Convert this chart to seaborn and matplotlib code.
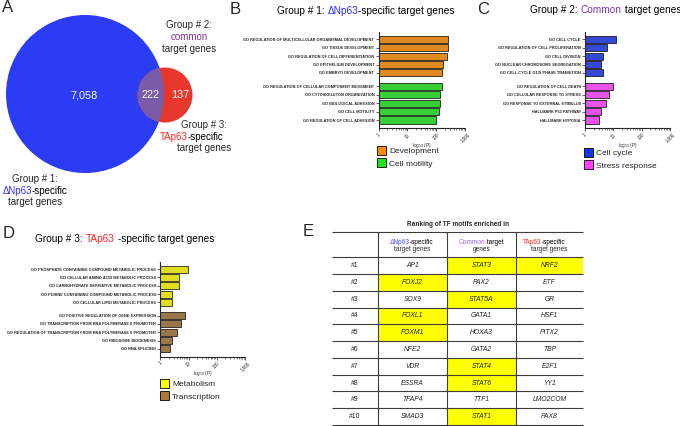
import pandas as pd
import matplotlib.pyplot as plt
import seaborn as sns
from matplotlib.patches import Circle, Patch

sns.set_style("ticks")
plt.rcParams['font.family'] = ['Liberation Sans', 'DejaVu Sans']

W, H = 680, 426

# ---- data ----
venn_counts = [7058, 222, 137]   # dNp63 only, common, TAp63 only

b_dev_terms = ["GO REGULATION OF MULTICELLULAR ORGANISMAL DEVELOPMENT", "GO TISSUE DEVELOPMENT",
               "GO REGULATION OF CELL DIFFERENTIATION", "GO EPITHELIUM DEVELOPMENT", "GO EMBRYO DEVELOPMENT"]
b_dev_vals = [257, 257, 234, 170, 158]
b_mot_terms = ["GO REGULATION OF CELLULAR COMPONENT MOVEMENT", "GO CYTOSKELETON ORGANIZATION",
               "GO BIOLOGICAL ADHESION", "GO CELL MOTILITY", "GO REGULATION OF CELL ADHESION"]
b_mot_vals = [160, 140, 134, 124, 102]

c_cyc_terms = ["GO CELL CYCLE", "GO REGULATION OF CELL PROLIFERATION", "GO CELL DIVISION",
               "GO NUCLEAR CHROMOSOME SEGREGATION", "GO CELL CYCLE G1/S PHASE TRANSITION"]
c_cyc_vals = [12, 6.2, 4.3, 3.6, 4.2]
c_str_terms = ["GO REGULATION OF CELL DEATH", "GO CELLULAR RESPONSE TO STRESS",
               "GO RESPONSE TO EXTERNAL STIMULUS", "HALLMARK P53 PATHWAY", "HALLMARK HYPOXIA"]
c_str_vals = [10, 7, 5.5, 3.8, 3.0]

d_met_terms = ["GO PHOSPHATE CONTAINING COMPOUND METABOLIC PROCESS", "GO CELLULAR AMINO ACID METABOLIC PROCESS",
               "GO CARBOHYDRATE DERIVATIVE METABOLIC PROCESS", "GO PURINE CONTAINING COMPOUND METABOLIC PROCESS",
               "GO CELLULAR LIPID METABOLIC PROCESS"]
d_met_vals = [9.2, 4.6, 4.6, 2.7, 2.6]
d_tx_terms = ["GO POSITIVE REGULATION OF GENE EXPRESSION", "GO TRANSCRIPTION FROM RNA POLYMERASE II PROMOTER",
              "GO REGULATION OF TRANSCRIPTION FROM RNA POLYMERASE II PROMOTER", "GO RIBOSOME BIOGENESIS",
              "GO RNA SPLICING"]
d_tx_vals = [7.6, 5.2, 3.8, 2.6, 2.25]

ranks = ["#1", "#2", "#3", "#4", "#5", "#6", "#7", "#8", "#9", "#10"]
dn_motifs = ["AP1", "FOXJ2", "SOX9", "FOXL1", "FOXM1", "NFE2", "VDR", "ESSRA", "TFAP4", "SMAD3"]
common_motifs = ["STAT3", "PAX2", "STAT5A", "GATA1", "HOXA3", "GATA2", "STAT4", "STAT6", "TTF1", "STAT1"]
ta_motifs = ["NRF2", "ETF", "GR", "HSF1", "PITX2", "TBP", "E2F1", "YY1", "LMO2COM", "PAX8"]
highlighted = ["FOXJ2", "FOXL1", "FOXM1", "STAT3", "STAT5A", "STAT4", "STAT6", "STAT1", "NRF2"]

# colours
BLUE_T = "#2f2fff"
PURPLE_T = "#7b35c0"
RED_T = "#ff2222"

fig = plt.figure(figsize=(6.8, 4.26), dpi=100)
# full-figure overlay in pixel coordinates (for the venn and all free text)
bg = fig.add_axes([0, 0, 1, 1])
bg.set_xlim(0, W)
bg.set_ylim(H, 0)
bg.set_axis_off()
bg.patch.set_visible(False)
bg.set_zorder(5)


def px_rect(x0, y0, x1, y1):
    return [x0 / W, 1 - y1 / H, (x1 - x0) / W, (y1 - y0) / H]


def rainbow(x, y, parts, size):
    t = bg.text(x, y, parts[0][0], color=parts[0][1], fontsize=size, va='center', ha='left')
    for s, c in parts[1:]:
        t = bg.annotate(s, xy=(1, 0), xycoords=t, va='bottom', ha='left', color=c, fontsize=size)


def split_line(x, y, left, lc, right, rc, size):
    bg.text(x, y, left, color=lc, fontsize=size, ha='right', va='center')
    bg.text(x, y, right, color=rc, fontsize=size, ha='left', va='center')


# panel letters
for letter, (lx, ly) in zip("ABCDE", [(8, 8), (235, 9), (483, 9), (9, 233), (308, 231)]):
    bg.text(lx, ly, letter, fontsize=12, ha='center', va='center')

# ---- A: Venn ----
big = Circle((85, 94), 79, fc="#2b3cf4", ec='none')
small = Circle((165, 95), 27.5, fc="#e8372c", ec='none')
both = Circle((165, 95), 27.5, fc="#7a5ba8", ec='none')
bg.add_patch(big)
bg.add_patch(small)
bg.add_patch(both)
both.set_clip_path(big)
for v, (vx, vy) in zip(venn_counts, [(84, 95), (150, 95), (180, 95)]):
    bg.text(vx, vy, f"{v:,}", color='white', fontsize=7.8, ha='center', va='center')

bg.text(189, 25, "Group # 2:", fontsize=7, ha='center', va='center')
bg.text(189, 37, "common", fontsize=7, ha='center', va='center', color="#80308f")
bg.text(189, 49, "target genes", fontsize=7, ha='center', va='center')
bg.text(204, 125, "Group # 3:", fontsize=7, ha='center', va='center')
split_line(188, 137, "TAp63", RED_T, "-specific", 'black', 7)
bg.text(204, 148, "target genes", fontsize=7, ha='center', va='center')
bg.text(35, 179, "Group # 1:", fontsize=7, ha='center', va='center')
split_line(32, 191, "\u0394Np63", BLUE_T, "-specific", 'black', 7)
bg.text(35, 202, "target genes", fontsize=7, ha='center', va='center')


# ---- B, C, D: bar panels ----
def bar_panel(rect, terms1, vals1, terms2, vals2, names, colors, leg_xy):
    pos = list(range(5)) + [i + 5.6 for i in range(5)]
    df = pd.DataFrame({"term": terms1 + terms2, "value": vals1 + vals2, "pos": pos,
                       "group": [names[0]] * 5 + [names[1]] * 5})
    ax = fig.add_axes(rect)
    sns.barplot(data=df, x="value", y="pos", hue="group", orient="h", native_scale=True,
                palette=dict(zip(names, colors)), edgecolor="black", linewidth=0.5,
                width=0.85, dodge=False, legend=False, ax=ax)
    ax.set_xscale("log")
    ax.set_xlim(1, 1000)
    ax.set_ylim(10.55, -0.9)
    ax.set_yticks(pos)
    ax.set_yticklabels(df["term"], fontsize=2.8, fontweight="bold")
    ax.set_xticks([1, 10, 100, 1000])
    ax.set_xticklabels(["1", "10", "100", "1,000"], fontsize=3.3, rotation=45)
    ax.tick_params(axis="both", which="major", length=2, width=0.5, pad=1)
    ax.tick_params(axis="x", which="minor", length=1.2, width=0.4)
    ax.set_ylabel("")
    ax.set_xlabel("log$_{10}$ (P)", fontsize=3.3)
    ax.xaxis.set_label_coords(0.5, -0.13)
    sns.despine(ax=ax)
    for s in ["left", "bottom"]:
        ax.spines[s].set_linewidth(0.8)
    handles = [Patch(facecolor=c, edgecolor="black", linewidth=0.6, label=n) for n, c in zip(names, colors)]
    ax.legend(handles=handles, loc="upper left", bbox_to_anchor=(leg_xy[0] / W, 1 - leg_xy[1] / H),
              bbox_transform=fig.transFigure, frameon=False, fontsize=6, handlelength=1.1,
              handleheight=1.3, handletextpad=0.35, labelspacing=0.35, borderpad=0, borderaxespad=0)
    return ax


bar_panel(px_rect(378.5, 31.7, 465, 128), b_dev_terms, b_dev_vals, b_mot_terms, b_mot_vals,
          ["Development", "Cell motility"], ["#ff8c00", "#1ee61e"], (377, 146))
bar_panel(px_rect(585, 31.7, 670, 128), c_cyc_terms, c_cyc_vals, c_str_terms, c_str_vals,
          ["Cell cycle", "Stress response"], ["#1a35f0", "#ff3cff"], (584, 148))
bar_panel(px_rect(160.3, 261.7, 245, 356.7), d_met_terms, d_met_vals, d_tx_terms, d_tx_vals,
          ["Metabolism", "Transcription"], ["#ffff00", "#a8783f"], (160, 379))

rainbow(277, 11, [("Group # 1: ", 'black'), ("\u0394Np63", BLUE_T), ("-specific target genes", 'black')], 7.3)
rainbow(530, 10, [("Group # 2: ", 'black'), ("Common", PURPLE_T), (" target genes", 'black')], 7.3)
rainbow(35, 239, [("Group # 3: ", 'black'), ("TAp63", RED_T), (" -specific target genes", 'black')], 7.3)

# ---- E: table ----
bg.text(458, 224, "Ranking of TF motifs enriched in", fontsize=4.7, fontweight='bold', ha='center', va='center')
axt = fig.add_axes(px_rect(332, 232, 583, 425))
axt.set_axis_off()
axt.set_xlim(0, 1)
axt.set_ylim(0, 1)
cell_text = [["", "", "", ""]] + [[r, a, b, c] for r, a, b, c in zip(ranks, dn_motifs, common_motifs, ta_motifs)]
cell_col = [["white"] * 4] + [["white"] + ["#ffff00" if g in highlighted else "white" for g in (a, b, c)]
                              for a, b, c in zip(dn_motifs, common_motifs, ta_motifs)]
col_w = [46, 69, 69, 67]
row_h = [1.5] + [1.0] * len(ranks)
tab = axt.table(cellText=cell_text, cellColours=cell_col, colWidths=[w / sum(col_w) for w in col_w],
                cellLoc='center', bbox=[0, 0, 1, 1])
tab.auto_set_font_size(False)
tab.set_fontsize(4.9)
for (r, c), cell in tab.get_celld().items():
    cell.set_linewidth(0)
    cell.set_height(row_h[r])
    if c > 0:
        cell.get_text().set_fontstyle('italic')
    cell.get_text().set_color("#222222")

# grid lines: horizontal across all, vertical only between columns
y_lines = [1 - sum(row_h[:i]) / sum(row_h) for i in range(len(row_h) + 1)]
x_lines = [sum(col_w[:i]) / sum(col_w) for i in range(1, len(col_w))]
axt.hlines(y_lines, 0, 1, color="#3c3c3c", lw=0.8, clip_on=False)
axt.vlines(x_lines, 0, 1, color="#3c3c3c", lw=0.8, clip_on=False)

# table header with coloured words
split_line(410, 242, "\u0394Np63", "#4a4aff", "-specific", 'black', 4.7)
bg.text(412.5, 249.5, "target genes", fontsize=4.7, ha='center', va='center')
split_line(485, 242, "Common", "#9a66d6", " target", 'black', 4.7)
bg.text(481.5, 249.5, "genes", fontsize=4.7, ha='center', va='center')
split_line(541.7, 242, "TAp63", RED_T, "-specific", 'black', 4.7)
bg.text(549.5, 249.5, "target genes", fontsize=4.7, ha='center', va='center')

fig.savefig("out.png", dpi=100)
